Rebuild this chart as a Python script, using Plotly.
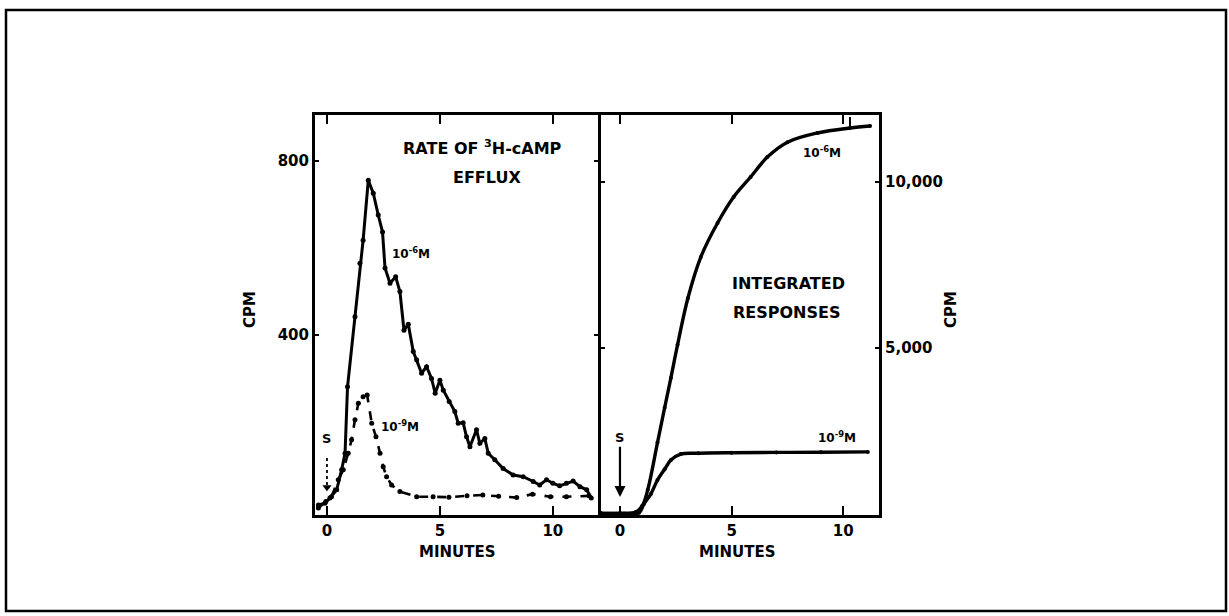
import plotly.graph_objects as go

W, H = 1229, 616

# ---------------- data ----------------
# Left panel: rate of 3H-cAMP efflux (CPM) vs minutes
rate_x_1e6 = [-0.38, -0.09, 0.13, 0.43, 0.65, 0.8, 0.91, 1.24, 1.46, 1.6, 1.83, 2.05, 2.27, 2.46,
              2.57, 2.79, 3.04, 3.23, 3.41, 3.6, 3.82, 3.97, 4.19, 4.41, 4.63, 4.79, 5.0, 5.15,
              5.41, 5.66, 5.81, 6.03, 6.18, 6.33, 6.62, 6.77, 6.99, 7.14, 7.43, 7.8, 8.24, 8.69,
              9.13, 9.42, 9.72, 10.0, 10.3, 10.6, 10.9, 11.2, 11.5, 11.7]
rate_y_1e6 = [9, 13, 25, 44, 90, 128, 281, 442, 565, 618, 756, 726, 676, 637,
              554, 519, 534, 500, 411, 425, 362, 343, 312, 327, 300, 266, 296, 273,
              247, 224, 197, 198, 166, 143, 182, 151, 162, 128, 113, 93, 78, 74,
              63, 55, 67, 59, 53, 59, 64, 51, 44, 25]

rate_x_1e9 = [-0.38, -0.05, 0.2, 0.5, 0.72, 0.94, 1.09, 1.24, 1.39, 1.6, 1.78, 1.98, 2.17, 2.35,
              2.49, 2.64, 2.86, 3.23, 3.97, 4.7, 5.4, 6.2, 6.9, 7.6, 8.4, 9.1, 9.9, 10.6, 11.6]
rate_y_1e9 = [2, 17, 28, 67, 90, 128, 159, 205, 243, 258, 262, 197, 166, 128,
              97, 74, 55, 40, 28, 28, 27, 30, 32, 29, 26, 34, 28, 28, 30]

# Right panel: integrated responses (CPM) vs minutes
int_x_1e6 = [-0.85, 0.0, 0.71, 1.0, 1.24, 1.68, 2.0, 2.28, 2.58, 3.04, 3.62, 4.37, 5.09, 5.85,
             6.6, 7.5, 8.84, 10.3, 11.2]
int_y_1e6 = [20, 20, 60, 250, 720, 2150, 3200, 4100, 5100, 6500, 7740, 8765, 9548, 10150,
             10750, 11200, 11476, 11627, 11687]

int_x_1e9 = [-0.85, 0.0, 0.85, 1.07, 1.38, 1.68, 2.0, 2.28, 2.72, 3.5, 5.0, 7.0, 9.0, 11.1]
int_y_1e9 = [20, 20, 40, 300, 600, 1024, 1350, 1627, 1807, 1830, 1845, 1855, 1862, 1870]

# error bar on the integrated 10^-6 curve
err_x = [10.3]
err_y = [11627]
err_up = [330]

# stimulus marks (time 0)
stim_left_x = [0, 0]
stim_left_y = [117, 50]
stim_right_tip = 512
stim_right_label = 2300
stim_left_label = 163

x_ticks = [0, 5, 10]
y_left_ticks = [400, 800]
y_right_ticks = [5000, 10000]
y_right_ticktext = ["5,000", "10,000"]

# ---------------- layout helpers ----------------
def px(v):
    return v / W

def py(v):
    return 1 - v / H

FONT = "DejaVu Sans"
ink = "black"

def f(size):
    return dict(family=FONT, size=size, color=ink, weight="bold")

fig = go.Figure()

# left panel traces
fig.add_trace(go.Scatter(x=rate_x_1e6, y=rate_y_1e6, mode="lines+markers",
                         line=dict(color=ink, width=3), marker=dict(size=5, color=ink),
                         xaxis="x", yaxis="y", showlegend=False))
fig.add_trace(go.Scatter(x=rate_x_1e9, y=rate_y_1e9, mode="lines+markers",
                         line=dict(color=ink, width=2.6, dash="dash"), marker=dict(size=5, color=ink),
                         xaxis="x", yaxis="y", showlegend=False))
fig.add_trace(go.Scatter(x=stim_left_x, y=stim_left_y, mode="lines",
                         line=dict(color=ink, width=1.8, dash="dot"),
                         xaxis="x", yaxis="y", showlegend=False))
fig.add_trace(go.Scatter(x=stim_left_x[-1:], y=stim_left_y[-1:], mode="markers",
                         marker=dict(symbol="triangle-down", size=8, color=ink),
                         xaxis="x", yaxis="y", showlegend=False))

# right panel traces
fig.add_trace(go.Scatter(x=int_x_1e6, y=int_y_1e6, mode="lines+markers", line_shape="spline",
                         line=dict(color=ink, width=3.4), marker=dict(size=4, color=ink),
                         xaxis="x2", yaxis="y2", showlegend=False))
fig.add_trace(go.Scatter(x=int_x_1e9, y=int_y_1e9, mode="lines+markers", line_shape="spline",
                         line=dict(color=ink, width=3.4), marker=dict(size=4, color=ink),
                         xaxis="x2", yaxis="y2", showlegend=False))
fig.add_trace(go.Scatter(x=err_x, y=err_y, mode="markers", marker=dict(size=1, color=ink),
                         error_y=dict(type="data", symmetric=False, array=err_up, arrayminus=[0],
                                      color=ink, thickness=2, width=0),
                         xaxis="x2", yaxis="y2", showlegend=False))

axis_common = dict(showgrid=False, zeroline=False, showline=True, linecolor=ink, linewidth=3,
                   ticks="inside", tickcolor=ink, tickwidth=2, mirror="allticks",
                   tickfont=f(15))

L0, L1 = px(315), px(598)
R0, R1 = px(601), px(879)
B, T = py(515), py(115)

fig.update_layout(
    width=W, height=H,
    margin=dict(l=0, r=0, t=0, b=0, pad=0),
    paper_bgcolor="white", plot_bgcolor="white",
    xaxis=dict(domain=[L0, L1], range=[-0.53, 12.0], anchor="y", tickvals=x_ticks,
               ticklen=9, **axis_common),
    yaxis=dict(domain=[B, T], range=[-14, 906], anchor="x", tickvals=y_left_ticks,
               ticklen=4, **axis_common),
    xaxis2=dict(domain=[R0, R1], range=[-0.85, 11.6], anchor="y2", tickvals=x_ticks,
                ticklen=9, **axis_common),
    yaxis2=dict(domain=[B, T], range=[-30, 12018], anchor="x2", side="right",
                tickvals=y_right_ticks, ticktext=y_right_ticktext, ticklen=4, **axis_common),
)

C = dict(xanchor="center", yanchor="middle", showarrow=False)
ann = [
    dict(x=6.87, y=832, xref="x", yref="y", text="RATE OF <sup>3</sup>H-cAMP", font=f(16), **C),
    dict(x=7.1, y=763, xref="x", yref="y", text="EFFLUX", font=f(16), **C),
    dict(x=3.72, y=588, xref="x", yref="y", text="10<sup>-6</sup>M", font=f(12), **C),
    dict(x=3.23, y=191, xref="x", yref="y", text="10<sup>-9</sup>M", font=f(12), **C),
    dict(x=0, y=stim_left_label, xref="x", yref="y", text="S", font=f(13), **C),
    dict(x=9.06, y=10904, xref="x2", yref="y2", text="10<sup>-6</sup>M", font=f(12), **C),
    dict(x=7.54, y=6928, xref="x2", yref="y2", text="INTEGRATED", font=f(16), **C),
    dict(x=7.45, y=6084, xref="x2", yref="y2", text="RESPONSES", font=f(16), **C),
    dict(x=9.73, y=2319, xref="x2", yref="y2", text="10<sup>-9</sup>M", font=f(12), **C),
    dict(x=0, y=stim_right_tip, xref="x2", yref="y2", ax=0, ay=stim_right_label, axref="x2", ayref="y2",
         text="S", showarrow=True, arrowhead=2, arrowsize=1, arrowwidth=2.2, arrowcolor=ink,
         font=f(13)),
    dict(x=px(457), y=py(552), xref="paper", yref="paper", text="MINUTES", font=f(15), **C),
    dict(x=px(737), y=py(552), xref="paper", yref="paper", text="MINUTES", font=f(15), **C),
    dict(x=px(250), y=py(310), xref="paper", yref="paper", text="CPM", textangle=-90, font=f(15), **C),
    dict(x=px(951), y=py(310), xref="paper", yref="paper", text="CPM", textangle=-90, font=f(15), **C),
]
fig.update_layout(annotations=ann)

fig.add_shape(type="rect", xref="paper", yref="paper",
              x0=px(6), x1=px(1226), y0=py(611), y1=py(10),
              line=dict(color=ink, width=2.5), fillcolor="rgba(0,0,0,0)")

fig.write_html("out.html", config={"displayModeBar": False},
               post_script="document.body.style.margin='0';document.body.style.overflow='hidden';")
